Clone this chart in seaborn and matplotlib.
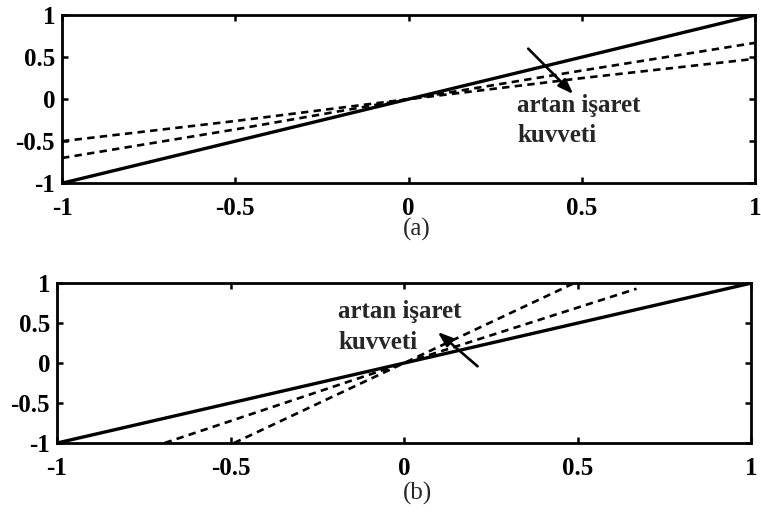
import matplotlib
matplotlib.use("Agg")
import matplotlib.pyplot as plt
import seaborn as sns

# ---- data ----
ticks = [-1, -0.5, 0, 0.5, 1]
tick_labels = ["-1", "-0.5", "0", "0.5", "1"]

ref_x = [-1, 1]
ref_y = [-1, 1]

a_weak_x = [-1, -0.5, 0, 0.5, 1]
a_weak_y = [-0.5, -0.26, 0, 0.25, 0.48]
a_mid_x = [-1, -0.5, 0, 0.5, 1]
a_mid_y = [-0.7, -0.36, 0, 0.34, 0.67]

b_strong_x = [-0.49, 0, 0.49]
b_strong_y = [-1, 0, 1]
b_mid_x = [-0.69, 0, 0.67]
b_mid_y = [-1, 0, 0.93]

label_line1 = "artan işaret"
label_line2 = "kuvveti"
panel_labels = ["(a)", "(b)"]

sns.set_style("ticks")
plt.rcParams['font.family'] = ['Liberation Serif', 'DejaVu Serif']

fig = plt.figure(figsize=(7.61, 5.19), dpi=100)
ax_a = fig.add_axes([0.0815, 0.647, 0.911, 0.324])
ax_b = fig.add_axes([0.0749, 0.1464, 0.912, 0.308])

FS = 18


def style_axes(ax):
    ax.set_xlim(-1, 1)
    ax.set_ylim(-1, 1)
    ax.set_xticks(ticks)
    ax.set_yticks(ticks)
    ax.set_xticklabels(tick_labels, fontsize=FS, fontweight='bold')
    ax.set_yticklabels(tick_labels, fontsize=FS, fontweight='bold')
    for s in ax.spines.values():
        s.set_visible(True)
        s.set_linewidth(2.0)
        s.set_color('black')
    ax.tick_params(axis='both', direction='in', length=4, width=1.8,
                   top=True, right=True, colors='black')
    ax.tick_params(axis='x', pad=10)
    ax.tick_params(axis='y', pad=5)
    ax.set_xlabel("")
    ax.set_ylabel("")


def dashed(ax, x, y):
    sns.lineplot(x=x, y=y, ax=ax, color='black', linewidth=1.9, linestyle='--')
    ax.lines[-1].set_dashes([2.8, 2.0])


# panel (a)
dashed(ax_a, a_weak_x, a_weak_y)
dashed(ax_a, a_mid_x, a_mid_y)
sns.lineplot(x=ref_x, y=ref_y, ax=ax_a, color='black', linewidth=2.4)
ax_a.annotate("", xy=(0.475, 0.06), xytext=(0.345, 0.60),
              arrowprops=dict(arrowstyle='-|>,head_length=0.5,head_width=0.18',
                              color='black', lw=1.9,
                              mutation_scale=18, shrinkA=0, shrinkB=0))
ax_a.text(0.313, -0.07, label_line1, fontsize=FS, fontweight='bold',
          ha='left', va='center')
ax_a.text(0.313, -0.43, label_line2, fontsize=FS, fontweight='bold',
          ha='left', va='center')
style_axes(ax_a)

# panel (b)
dashed(ax_b, b_strong_x, b_strong_y)
dashed(ax_b, b_mid_x, b_mid_y)
sns.lineplot(x=ref_x, y=ref_y, ax=ax_b, color='black', linewidth=2.4)
ax_b.annotate("", xy=(0.097, 0.39), xytext=(0.212, -0.04),
              arrowprops=dict(arrowstyle='-|>,head_length=0.5,head_width=0.18',
                              color='black', lw=1.9,
                              mutation_scale=18, shrinkA=0, shrinkB=0))
ax_b.text(-0.19, 0.64, label_line1, fontsize=FS, fontweight='bold',
          ha='left', va='center')
ax_b.text(-0.19, 0.26, label_line2, fontsize=FS, fontweight='bold',
          ha='left', va='center')
style_axes(ax_b)

fig.text(0.548, 0.557, panel_labels[0], fontsize=18, ha='center', va='center')
fig.text(0.548, 0.050, panel_labels[1], fontsize=18, ha='center', va='center')

fig.savefig("out.png", dpi=100, facecolor='white')
